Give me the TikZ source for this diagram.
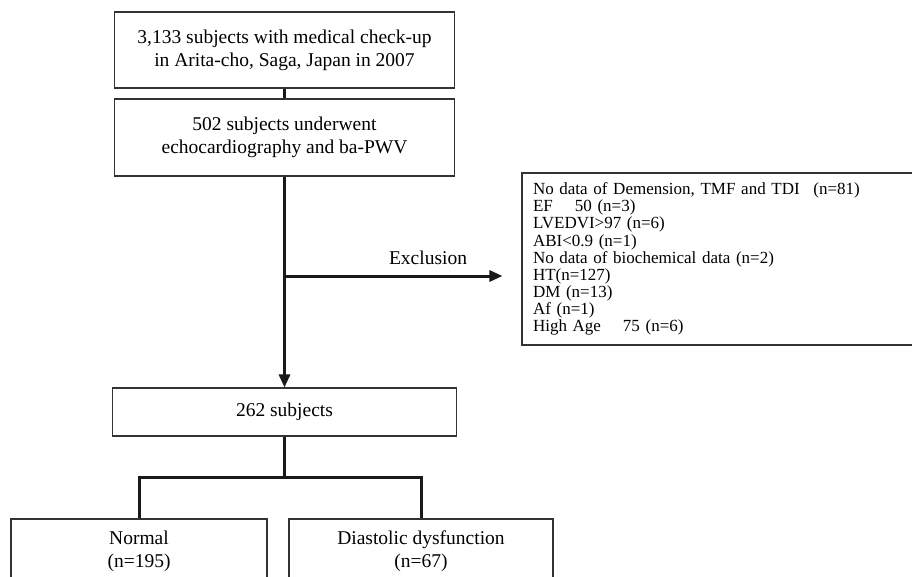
\documentclass[tikz,border=0pt]{standalone}
\usepackage{fontspec}
\setmainfont{Liberation Serif}
\usetikzlibrary{arrows.meta}
\begin{document}
\begin{tikzpicture}[x=1pt,y=-1pt,
  box/.style={draw=black!80,line width=1.1pt,fill=white,inner sep=0pt,align=center,
    font=\fontsize{19.5}{23}\selectfont},
  conn/.style={draw=black!90,line width=3pt,line join=miter},
  arr/.style={conn,-{Triangle[length=13pt,width=11pt]}},
  lbl/.style={inner sep=0pt,font=\fontsize{19.5}{23}\selectfont}]
\useasboundingbox (0,0) rectangle (912,577);
\clip (0,0) rectangle (912,577);
\node[box,minimum width=340pt,minimum height=76pt] (box1) at (284.5,50)
  {3,133 subjects with medical check-up\\in Arita-cho, Saga, Japan in 2007};
\node[box,minimum width=340pt,minimum height=77pt] (box2) at (284.5,137.5)
  {502 subjects underwent\\echocardiography and ba-PWV};
\node[box,minimum width=344pt,minimum height=48pt] (box3) at (284.5,412)
  {262 subjects};
\node[box,minimum width=256pt,minimum height=65pt] (normal) at (139,551.5)
  {Normal\\(n=195)};
\node[box,minimum width=264pt,minimum height=65pt] (dd) at (421,551.5)
  {Diastolic dysfunction\\(n=67)};
\node[draw=black!80,line width=1.1pt,inner xsep=11pt,inner ysep=0pt,text width=386pt,
  minimum height=172pt,align=left,font=\fontsize{17}{17.1}\selectfont] (excl) at (726,259)
  {No data of Demension, TMF and TDI\hspace{8pt} (n=81)\\
   EF\hspace{22pt}50 (n=3)\\
   LVEDVI>97 (n=6)\\
   ABI<0.9 (n=1)\\
   No data of biochemical data (n=2)\\
   HT(n=127)\\
   DM (n=13)\\
   Af (n=1)\\
   High Age\hspace{22pt}75 (n=6)};
\node[lbl] (excllabel) at (428,258) {Exclusion};
\coordinate (junction) at (284.5,276);
\coordinate (split) at (284.5,477);
\draw[conn] (box1.south) -- (box2.north);
\draw[arr] (box2.south) -- (box3.north);
\draw[arr,shorten >=19pt] (junction) -- (junction -| excl.west);
\draw[conn] (box3.south) -- (split);
\draw[conn] (normal.north) |- (split) -| (dd.north);
\end{tikzpicture}
\end{document}
